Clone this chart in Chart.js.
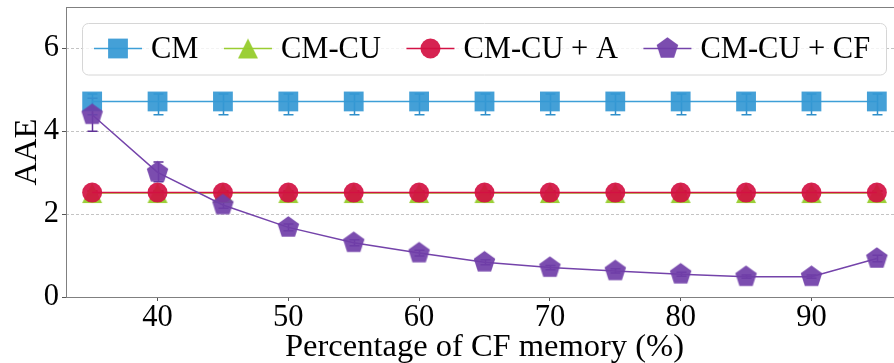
<!DOCTYPE html>
<html>
<head>
<meta charset="utf-8">
<script src="https://cdn.jsdelivr.net/npm/chart.js@4.4.1/dist/chart.umd.min.js"></script>
<style>
  html, body { margin: 0; padding: 0; overflow: hidden; background: #fff; }
  #wrap { width: 920px; height: 363px; }
</style>
</head>
<body>
<div id="wrap"><canvas id="chart" width="920" height="363"></canvas></div>
<script>
// x values: share of memory given to the CF (%)
const memoryPct = [35, 40, 45, 50, 55, 60, 65, 70, 75, 80, 85, 90, 95];
const xTickValues = [40, 50, 60, 70, 80, 90];
const yTickValues = [0, 2, 4, 6];
const seriesNames = ['CM', 'CM-CU', 'CM-CU + A', 'CM-CU + CF'];

// mean AAE per configuration
const aaeCM     = [4.72, 4.72, 4.72, 4.72, 4.72, 4.72, 4.72, 4.72, 4.72, 4.72, 4.72, 4.72, 4.72];
const aaeCMCU   = [2.51, 2.51, 2.51, 2.51, 2.51, 2.51, 2.51, 2.51, 2.51, 2.51, 2.51, 2.51, 2.51];
const aaeCMCUA  = [2.52, 2.52, 2.52, 2.52, 2.52, 2.52, 2.52, 2.52, 2.52, 2.52, 2.52, 2.52, 2.52];
const aaeCMCUCF = [4.40, 3.01, 2.22, 1.68, 1.31, 1.06, 0.84, 0.71, 0.63, 0.55, 0.49, 0.49, 0.93];

// error bar extents (low / high)
const lowCM     = [4.40, 4.40, 4.40, 4.40, 4.40, 4.40, 4.40, 4.40, 4.40, 4.40, 4.40, 4.40, 4.40];
const highCM    = [4.90, 4.90, 4.90, 4.90, 4.90, 4.90, 4.90, 4.90, 4.90, 4.90, 4.90, 4.90, 4.90];
const lowCMCU   = [2.47, 2.47, 2.47, 2.47, 2.47, 2.47, 2.47, 2.47, 2.47, 2.47, 2.47, 2.47, 2.47];
const highCMCU  = [2.55, 2.55, 2.55, 2.55, 2.55, 2.55, 2.55, 2.55, 2.55, 2.55, 2.55, 2.55, 2.55];
const lowCMCUA  = [2.48, 2.48, 2.48, 2.48, 2.48, 2.48, 2.48, 2.48, 2.48, 2.48, 2.48, 2.48, 2.48];
const highCMCUA = [2.56, 2.56, 2.56, 2.56, 2.56, 2.56, 2.56, 2.56, 2.56, 2.56, 2.56, 2.56, 2.56];
const lowCF     = [4.00, 2.78, 2.14, 1.60, 1.24, 0.99, 0.78, 0.66, 0.58, 0.50, 0.45, 0.45, 0.85];
const highCF    = [4.80, 3.26, 2.30, 1.76, 1.38, 1.13, 0.90, 0.76, 0.68, 0.60, 0.53, 0.53, 1.01];

const FONT = "'Liberation Serif', 'Times New Roman', serif";
const FS = 30.5;
const TITLE_FS = 32.5;
const BLUE = 'rgba(52,152,212,0.92)', GREEN = 'rgba(150,204,44,0.95)',
      RED = 'rgba(211,16,66,0.92)', PURPLE = 'rgba(112,62,168,0.92)';
const BLUE_LINE = '#3d9fd7', GREEN_LINE = '#9acd32', RED_LINE = '#d31245', PURPLE_LINE = '#7443aa';

function polygonImage(size, color, verts) {
  const c = document.createElement('canvas');
  c.width = size; c.height = size;
  const g = c.getContext('2d');
  g.fillStyle = color;
  g.beginPath();
  verts.forEach(([px, py], k) => k ? g.lineTo(px, py) : g.moveTo(px, py));
  g.closePath();
  g.fill();
  return c;
}
function pentagonImage(R, color) {
  const s = Math.ceil(2 * R + 2), v = [];
  for (let k = 0; k < 5; k++) {
    const a = -Math.PI / 2 + k * 2 * Math.PI / 5;
    v.push([s / 2 + R * Math.cos(a), s / 2 + R * Math.sin(a)]);
  }
  return polygonImage(s, color, v);
}
function triangleImage(h, color) {
  // upward triangle centred on its bounding box
  const s = 2 * h + 2, m = s / 2;
  return polygonImage(s, color, [[m, m - h], [m - h, m + h], [m + h, m + h]]);
}
const pentagon = pentagonImage(11.3, PURPLE);
const triangle = triangleImage(10, GREEN);

const points = ys => memoryPct.map((x, i) => ({ x, y: ys[i] }));

const errorSets = [
  { low: lowCM, high: highCM, color: '#2f8fca' },
  { low: lowCMCU, high: highCMCU, color: '#8cc02c' },
  { low: lowCMCUA, high: highCMCUA, color: '#b80f3a' },
  { low: lowCF, high: highCF, color: '#5f3196' }
];

const markerSpecs = [
  { style: 'rect', radius: 14, color: BLUE, line: BLUE_LINE },
  { style: triangle, radius: 10, color: GREEN, line: GREEN_LINE },
  { style: 'circle', radius: 10, color: RED, line: RED_LINE },
  { style: pentagon, radius: 11, color: PURPLE, line: PURPLE_LINE }
];

const framePlugin = {
  id: 'frame',
  beforeDatasetsDraw(chart) {
    const { ctx, chartArea: a } = chart;
    ctx.save();
    ctx.strokeStyle = '#808080';
    ctx.lineWidth = 1;
    ctx.strokeRect(a.left + 0.5, a.top + 0.5, a.right - a.left, a.bottom - a.top);
    ctx.restore();
  }
};

// error bars sit beneath the lines and markers
const errorBarPlugin = {
  id: 'errorBars',
  beforeDatasetsDraw(chart) {
    const { ctx } = chart;
    const xs = chart.scales.x, ys = chart.scales.y;
    ctx.save();
    ctx.lineWidth = 1.5;
    errorSets.forEach(set => {
      ctx.strokeStyle = set.color;
      memoryPct.forEach((v, i) => {
        const px = Math.round(xs.getPixelForValue(v)) + 0.5;
        const y1 = ys.getPixelForValue(set.low[i]);
        const y2 = ys.getPixelForValue(set.high[i]);
        ctx.beginPath();
        ctx.moveTo(px, y1); ctx.lineTo(px, y2);
        ctx.moveTo(px - 5, y1); ctx.lineTo(px + 5, y1);
        ctx.moveTo(px - 5, y2); ctx.lineTo(px + 5, y2);
        ctx.stroke();
      });
    });
    ctx.restore();
  }
};

const legendPlugin = {
  id: 'boxLegend',
  afterDraw(chart) {
    const { ctx } = chart;
    const box = { x: 82.5, y: 23.5, w: 804, h: 51.5, r: 6 };
    ctx.save();
    ctx.beginPath();
    ctx.roundRect(box.x, box.y, box.w, box.h, box.r);
    ctx.fillStyle = 'rgba(255,255,255,0.8)';
    ctx.fill();
    ctx.strokeStyle = '#d6d6d6';
    ctx.lineWidth = 1;
    ctx.stroke();
    ctx.font = FS + 'px ' + FONT;
    ctx.textBaseline = 'alphabetic';
    const cy = 48.5;
    let x = 94;
    seriesNames.forEach((name, i) => {
      const m = markerSpecs[i];
      ctx.strokeStyle = m.line;
      ctx.lineWidth = 1.5;
      ctx.beginPath();
      ctx.moveTo(x, cy); ctx.lineTo(x + 48, cy);
      ctx.stroke();
      ctx.fillStyle = m.color;
      Chart.helpers.drawPoint(ctx, { pointStyle: m.style, radius: m.radius, rotation: 0, borderWidth: 0 }, x + 24, cy);
      ctx.fillStyle = '#000';
      ctx.fillText(name, x + 57, 58);
      x = x + 57 + ctx.measureText(name).width + 25.5;
    });
    ctx.restore();
  }
};

const seriesValues = [aaeCM, aaeCMCU, aaeCMCUA, aaeCMCUCF];
const datasets = seriesNames.map((name, i) => ({
  label: name,
  data: points(seriesValues[i]),
  borderColor: markerSpecs[i].line,
  backgroundColor: markerSpecs[i].color,
  borderWidth: 1.5,
  pointStyle: markerSpecs[i].style,
  pointRadius: markerSpecs[i].radius,
  pointHoverRadius: markerSpecs[i].radius,
  pointBorderWidth: 0,
  clip: false,
  order: 4 - i
}));

new Chart(document.getElementById('chart'), {
  type: 'line',
  data: { datasets },
  options: {
    responsive: false,
    devicePixelRatio: 1,
    animation: false,
    events: [],
    layout: { autoPadding: false, padding: { top: 7, right: 17, left: 0, bottom: 0 } },
    plugins: { legend: { display: false }, tooltip: { enabled: false } },
    scales: {
      x: {
        type: 'linear',
        min: 33,
        max: 97,
        afterBuildTicks: s => { s.ticks = xTickValues.map(v => ({ value: v })); },
        afterFit: s => { s.height = 66; s.paddingLeft = 0; s.paddingRight = 0; },
        grid: { drawOnChartArea: false, drawTicks: true, tickLength: 4, tickColor: '#555', tickWidth: 1 },
        border: { display: false },
        ticks: { font: { family: FONT, size: FS, lineHeight: 1 }, color: '#000', padding: 2, maxRotation: 0, autoSkip: false },
        title: { display: true, text: 'Percentage of CF memory (%)', color: '#000',
                 font: { family: FONT, size: TITLE_FS, lineHeight: 0.95 }, padding: { top: 0, bottom: 0 } }
      },
      y: {
        min: 0,
        max: 7,
        afterBuildTicks: s => { s.ticks = yTickValues.map(v => ({ value: v })); },
        afterFit: s => { s.width = 66; s.paddingTop = 0; s.paddingBottom = 0; },
        grid: { color: '#c4c4c4', lineWidth: 1, drawTicks: true, tickLength: 4, tickColor: '#555', tickWidth: 1, tickBorderDash: [] },
        border: { display: false, dash: [3, 2] },
        ticks: { font: { family: FONT, size: FS, lineHeight: 1 }, color: '#000', padding: 3 },
        title: { display: true, text: 'AAE', color: '#000',
                 font: { family: FONT, size: TITLE_FS, lineHeight: 1 }, padding: { top: 11, bottom: 0 } }
      }
    }
  },
  plugins: [framePlugin, errorBarPlugin, legendPlugin]
});
</script>
</body>
</html>
